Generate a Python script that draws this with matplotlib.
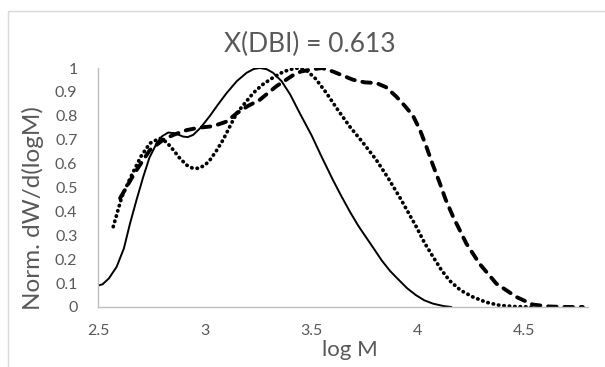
import matplotlib.pyplot as plt
from matplotlib.patches import Rectangle

# solid curve
solid_x = [2.50, 2.52, 2.55, 2.586, 2.62, 2.649, 2.68, 2.711, 2.74, 2.774, 2.80, 2.828, 2.86,
           2.898, 2.92, 2.945, 2.98, 3.024, 3.06, 3.102, 3.15, 3.196, 3.23, 3.258, 3.29, 3.32,
           3.36, 3.40, 3.446, 3.50, 3.55, 3.602, 3.64, 3.68, 3.72, 3.758, 3.80, 3.83, 3.87,
           3.914, 3.95, 3.99, 4.03, 4.071, 4.12, 4.157]
solid_y = [0.09, 0.095, 0.12, 0.168, 0.245, 0.35, 0.45, 0.545, 0.625, 0.685, 0.715, 0.73, 0.727,
           0.713, 0.711, 0.72, 0.75, 0.80, 0.845, 0.895, 0.945, 0.98, 0.996, 1.0, 0.995, 0.98,
           0.945, 0.89, 0.81, 0.72, 0.625, 0.53, 0.465, 0.40, 0.34, 0.29, 0.235, 0.195, 0.15,
           0.11, 0.078, 0.05, 0.028, 0.014, 0.004, 0.0]

# dotted curve
dot_x = [2.570, 2.610, 2.65, 2.70, 2.742, 2.789, 2.82, 2.852, 2.88, 2.914, 2.94, 2.969, 3.00,
         3.024, 3.055, 3.086, 3.12, 3.149, 3.19, 3.227, 3.27, 3.320, 3.37, 3.414, 3.44, 3.477,
         3.52, 3.571, 3.62, 3.680, 3.74, 3.805, 3.86, 3.914, 3.955, 3.993, 4.03, 4.071,
         4.11, 4.149, 4.20, 4.258, 4.32, 4.383, 4.45, 4.539]
dot_y = [0.336, 0.46, 0.54, 0.63, 0.685, 0.706, 0.69, 0.657, 0.625, 0.594, 0.582, 0.58, 0.593,
         0.615, 0.655, 0.70, 0.76, 0.81, 0.855, 0.895, 0.93, 0.96, 0.985, 0.997, 1.0, 0.99,
         0.955, 0.895, 0.83, 0.755, 0.69, 0.615, 0.54, 0.46, 0.395, 0.335, 0.27, 0.21,
         0.155, 0.11, 0.07, 0.042, 0.02, 0.007, 0.002, 0.0]

# dashed curve
dash_x = [2.602, 2.67, 2.742, 2.805, 2.852, 2.914, 2.97, 3.024, 3.06, 3.102, 3.149, 3.20,
          3.258, 3.336, 3.414, 3.45, 3.493, 3.55, 3.602, 3.695, 3.75, 3.805, 3.85, 3.899,
          3.94, 3.977, 4.010, 4.040, 4.07, 4.102, 4.13, 4.164, 4.227, 4.290, 4.368, 4.462,
          4.539, 4.617, 4.70, 4.774]
dash_y = [0.455, 0.56, 0.657, 0.70, 0.72, 0.74, 0.75, 0.755, 0.763, 0.776, 0.81, 0.84,
          0.867, 0.924, 0.97, 0.985, 0.993, 1.0, 0.985, 0.951, 0.94, 0.937, 0.92, 0.88,
          0.84, 0.80, 0.74, 0.67, 0.595, 0.52, 0.45, 0.38, 0.266, 0.18, 0.098, 0.042,
          0.01, 0.002, 0.0, 0.0]

title = 'X(DBI) = 0.613'
x_ticks = [2.5, 3, 3.5, 4, 4.5]
y_ticks = [0, 0.1, 0.2, 0.3, 0.4, 0.5, 0.6, 0.7, 0.8, 0.9, 1]

plt.rcParams['font.family'] = ['Lato', 'DejaVu Sans']
GREY = '#595959'

fig = plt.figure(figsize=(6.05, 3.67), dpi=100)
fig.patches.append(Rectangle((8 / 605, -0.1), 1.2, 1 - 11 / 367 + 0.1, transform=fig.transFigure,
                             fill=False, edgecolor='#d9d9d9', linewidth=1.0))
ax = fig.add_axes([0.1625, 0.1635, 0.81, 0.6512])

ax.plot(solid_x, solid_y, color='black', linewidth=1.4, solid_capstyle='round')
ax.plot(dot_x, dot_y, color='black', linewidth=2.7, linestyle=(0, (0.1, 1.35)),
        dash_capstyle='round')
ax.plot(dash_x, dash_y, color='black', linewidth=2.8, linestyle=(0, (2.2, 2.0)),
        dash_capstyle='round')

ax.set_xlim(2.5, 4.8)
ax.set_ylim(0, 1)
ax.set_xticks(x_ticks)
ax.set_xticklabels([str(t) for t in x_ticks])
ax.set_yticks(y_ticks)
ax.set_yticklabels([f'{t:g}' for t in y_ticks])
ax.tick_params(length=0, colors=GREY, labelsize=11.5)
ax.tick_params(axis='x', pad=12)
ax.tick_params(axis='y', pad=15)
for side in ['top', 'right']:
    ax.spines[side].set_visible(False)
for side in ['left', 'bottom']:
    ax.spines[side].set_color('#bfbfbf')
    ax.spines[side].set_linewidth(1.0)

fig.text(310 / 605, 1 - 44 / 367, title, fontsize=19, color=GREY, ha='center', va='center')
ax.set_xlabel('log M', fontsize=16, color=GREY)
ax.xaxis.set_label_coords((350 - 98.3) / 490, -(350 - 307) / 239)
ax.set_ylabel('Norm. dW/d(logM)', fontsize=17.5, color=GREY)
ax.yaxis.set_label_coords((33 - 98.3) / 490, (307 - 208) / 239)
ax.xaxis.label.set_va('center')
ax.yaxis.label.set_va('center')

fig.savefig('out.png', dpi=100)
